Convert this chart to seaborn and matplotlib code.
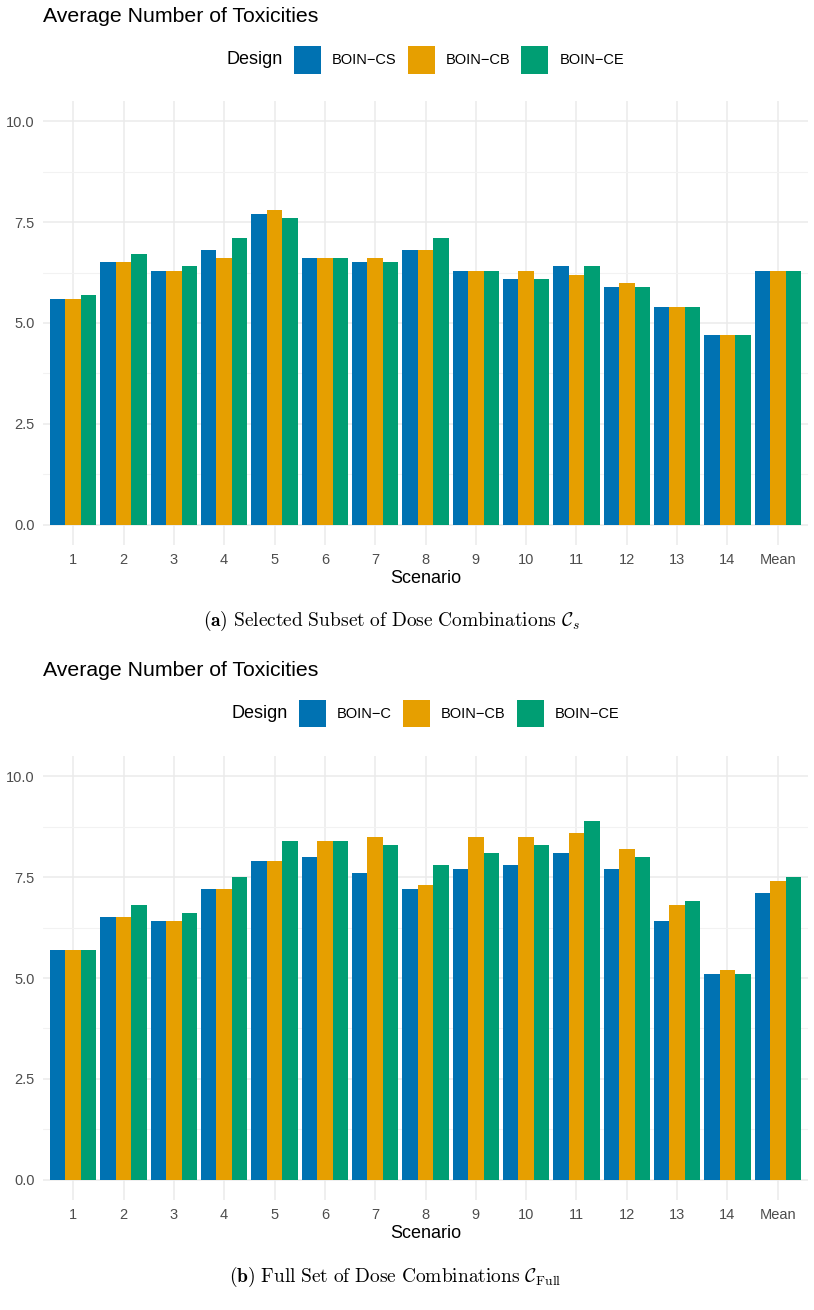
import numpy as np
import pandas as pd
import matplotlib.pyplot as plt
import matplotlib.patches as mpatches
from matplotlib.ticker import MultipleLocator, FormatStrFormatter
import seaborn as sns

sns.set_theme(style='white')
plt.rcParams['font.family'] = ['Liberation Sans', 'DejaVu Sans']
plt.rcParams['mathtext.fontset'] = 'cm'
plt.rcParams['text.color'] = 'black'

scenarios = ['1', '2', '3', '4', '5', '6', '7', '8', '9', '10', '11', '12', '13', '14', 'Mean']

# panel (a): selected subset
designs_a = ['BOIN\u2212CS', 'BOIN\u2212CB', 'BOIN\u2212CE']
cs_a = [5.6, 6.5, 6.3, 6.8, 7.7, 6.6, 6.5, 6.8, 6.3, 6.1, 6.4, 5.9, 5.4, 4.7, 6.3]
cb_a = [5.6, 6.5, 6.3, 6.6, 7.8, 6.6, 6.6, 6.8, 6.3, 6.3, 6.2, 6.0, 5.4, 4.7, 6.3]
ce_a = [5.7, 6.7, 6.4, 7.1, 7.6, 6.6, 6.5, 7.1, 6.3, 6.1, 6.4, 5.9, 5.4, 4.7, 6.3]

# panel (b): full set
designs_b = ['BOIN\u2212C', 'BOIN\u2212CB', 'BOIN\u2212CE']
c_b = [5.7, 6.5, 6.4, 7.2, 7.9, 8.0, 7.6, 7.2, 7.7, 7.8, 8.1, 7.7, 6.4, 5.1, 7.1]
cb_b = [5.7, 6.5, 6.4, 7.2, 7.9, 8.4, 8.5, 7.3, 8.5, 8.5, 8.6, 8.2, 6.8, 5.2, 7.4]
ce_b = [5.7, 6.8, 6.6, 7.5, 8.4, 8.4, 8.3, 7.8, 8.1, 8.3, 8.9, 8.0, 6.9, 5.1, 7.5]

colors = ['#0072B2', '#E69F00', '#009E73']

W, H = 814, 1310
fig = plt.figure(figsize=(W / 100, H / 100), dpi=100)


def fx(px):
    return px / W


def fy(py):
    return 1 - py / H


def long_df(designs, series):
    rows = []
    for d, vals in zip(designs, series):
        for s, v in zip(scenarios, vals):
            rows.append({'Scenario': s, 'Design': d, 'Value': v})
    return pd.DataFrame(rows)


def panel(top, bottom, designs, series):
    ax = fig.add_axes([fx(43), fy(bottom), fx(808) - fx(43), fy(top) - fy(bottom)])
    df = long_df(designs, series)
    sns.barplot(data=df, x='Scenario', y='Value', hue='Design', order=scenarios,
                hue_order=designs, palette=colors, saturation=1, width=0.92,
                errorbar=None, legend=False, ax=ax, zorder=3)
    for p in ax.patches:
        p.set_linewidth(0)
    ax.set_xlim(-0.6, 14.6)
    ax.set_ylim(-0.5, 10.5)
    ax.yaxis.set_major_locator(MultipleLocator(2.5))
    ax.yaxis.set_minor_locator(MultipleLocator(1.25))
    ax.yaxis.set_major_formatter(FormatStrFormatter('%.1f'))
    ax.grid(True, which='major', color='#EBEBEB', linewidth=1.1, zorder=0)
    ax.grid(True, which='minor', axis='y', color='#F2F2F2', linewidth=0.8, zorder=0)
    ax.set_axisbelow(True)
    for sp in ax.spines.values():
        sp.set_visible(False)
    ax.tick_params(axis='both', which='both', length=0, labelsize=10.5,
                   labelcolor='#4D4D4D')
    ax.tick_params(axis='y', pad=6)
    ax.tick_params(axis='x', pad=6)
    ax.set_ylabel('')
    ax.set_xlabel('Scenario', fontsize=13, color='black', labelpad=2)
    return ax


def legend(yc, designs):
    renderer = fig.canvas.get_renderer()
    key = 27
    gap = 11
    t0 = fig.text(0, fy(yc), 'Design', fontsize=13, va='center', ha='left')
    labs = [fig.text(0, fy(yc), d, fontsize=10.5, va='center', ha='left') for d in designs]
    w0 = t0.get_window_extent(renderer).width
    ws = [t.get_window_extent(renderer).width for t in labs]
    total = w0 + sum(gap + key + gap + w for w in ws)
    x = (43 + 808) / 2 - total / 2
    t0.set_x(fx(x))
    x += w0 + gap
    for t, w, c in zip(labs, ws, colors):
        fig.add_artist(mpatches.Rectangle((fx(x), fy(yc + key / 2)), key / W, key / H,
                                          transform=fig.transFigure, color=c, lw=0))
        x += key + gap
        t.set_x(fx(x))
        x += w + gap


panel(101, 545, designs_a, [cs_a, cb_a, ce_a])
fig.text(fx(43), fy(16), 'Average Number of Toxicities', fontsize=15.3, va='center', ha='left')
legend(60, designs_a)
fig.text(fx(392), fy(621),
         r'$\mathbf{(a)}\ \mathrm{Selected\ Subset\ of\ Dose\ Combinations}\ \mathcal{C}_s$',
         fontsize=14, ha='center', va='center')

panel(756, 1200, designs_b, [c_b, cb_b, ce_b])
fig.text(fx(43), fy(671), 'Average Number of Toxicities', fontsize=15.3, va='center', ha='left')
legend(714, designs_b)
fig.text(fx(395), fy(1277),
         r'$\mathbf{(b)}\ \mathrm{Full\ Set\ of\ Dose\ Combinations}\ \mathcal{C}_{\mathrm{Full}}$',
         fontsize=14, ha='center', va='center')

fig.savefig('out.png', dpi=100, facecolor='white')
